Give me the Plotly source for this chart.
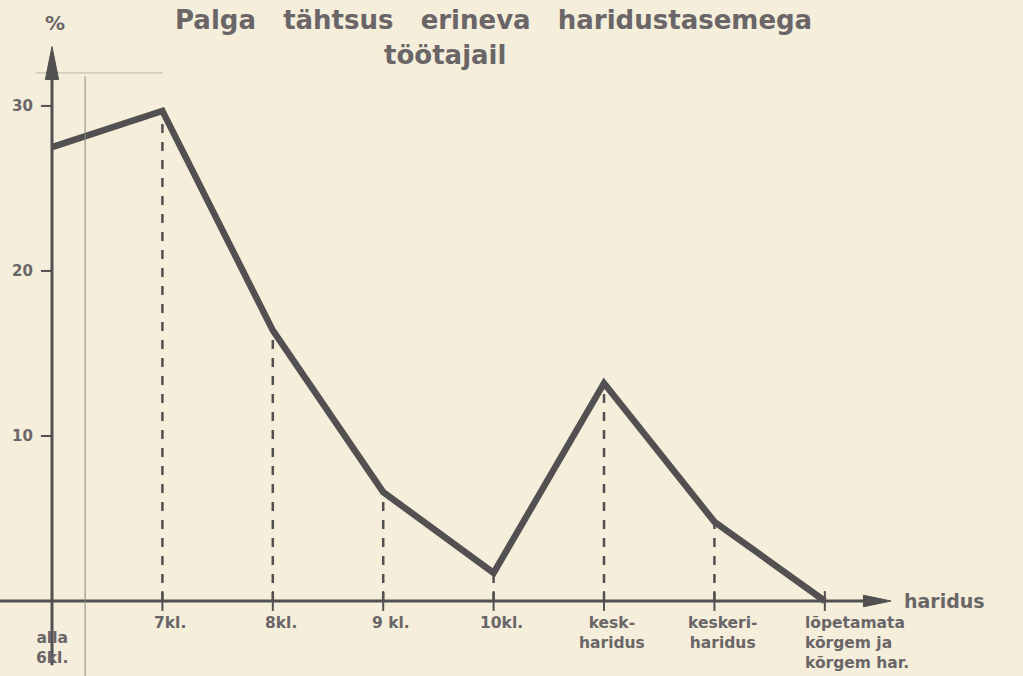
import plotly.graph_objects as go

categories = ["alla\n6kl.", "7kl.", "8kl.", "9 kl.", "10kl.", "kesk-\nharidus", "keskeri-\nharidus", "lõpetamata\nkõrgem ja\nkõrgem har."]
values = [27.5, 29.7, 16.4, 6.6, 1.7, 13.2, 4.8, 0.0]
y_ticks = [10, 20, 30]
title_lines = ["Palga tähtsus erineva haridustasemega", "töötajail"]
x_axis_name = "haridus"
y_axis_name = "%"

INK = "#535052"
TEXT = "#6a6668"
PAPER = "#f4eedb"
FONT = "DejaVu Sans"

x_idx = list(range(len(categories)))
fig = go.Figure()

# dashed drop lines
for i, v in zip(x_idx, values):
    if i == 0 or v <= 0:
        continue
    fig.add_trace(go.Scatter(x=[i, i], y=[0, v], mode="lines",
                             line=dict(color=INK, width=2.5, dash="dash"),
                             hoverinfo="skip", showlegend=False))

# main line
fig.add_trace(go.Scatter(x=x_idx, y=values, mode="lines",
                         line=dict(color=INK, width=6.5), showlegend=False))

xr = [-0.471, 8.795]
yr = [-4.545, 36.42]

shapes = []
# x axis
shapes.append(dict(type="line", x0=xr[0], x1=7.45, y0=0, y1=0, line=dict(color=INK, width=3)))
# y axis
shapes.append(dict(type="line", x0=0, x1=0, y0=-3.9, y1=32.5, line=dict(color=INK, width=3)))
# faint guide lines
shapes.append(dict(type="line", x0=0.3, x1=0.3, y0=-4.6, y1=31.8, line=dict(color="#8a8680", width=1)))
shapes.append(dict(type="line", x0=-0.15, x1=1.0, y0=32.0, y1=32.0, line=dict(color="#b8b4ac", width=1)))
# x ticks
for i in x_idx[1:]:
    shapes.append(dict(type="line", x0=i, x1=i, y0=-0.6, y1=0.6, line=dict(color=INK, width=2)))
# y ticks
for t in y_ticks:
    shapes.append(dict(type="line", x0=-0.1, x1=0, y0=t, y1=t, line=dict(color=INK, width=2)))
# arrowheads
shapes.append(dict(type="path", path="M 7.35 -0.35 L 7.6 0 L 7.35 0.35 Z", fillcolor=INK, line=dict(color=INK, width=1)))
shapes.append(dict(type="path", path="M -0.06 31.6 L 0 33.6 L 0.06 31.6 Z", fillcolor=INK, line=dict(color=INK, width=1)))

annotations = []
for i, c in zip(x_idx, categories):
    lines = c.split("\n")
    if i == 0:
        x, y, anchor, align = 0.0, -1.6, "center", "center"
    elif i == 7:
        x, y, anchor, align = 6.8, -0.65, "left", "left"
    else:
        x, y, anchor, align = i + 0.07, -0.65, "center", "center"
    annotations.append(dict(x=x, y=y, xref="x", yref="y",
                            text="<b>" + "<br>".join(lines) + "</b>", showarrow=False,
                            yanchor="top", xanchor=anchor, align=align,
                            font=dict(family=FONT, size=15.5, color=TEXT)))
for t in y_ticks:
    annotations.append(dict(x=-0.15, y=t, xref="x", yref="y", text="<b>" + str(t) + "</b>", showarrow=False,
                            xanchor="right", yanchor="middle",
                            font=dict(family=FONT, size=15, color=TEXT)))
annotations.append(dict(x=7.7, y=0, xref="x", yref="y", text="<b>" + x_axis_name + "</b>", showarrow=False,
                        xanchor="left", yanchor="middle", font=dict(family=FONT, size=19, color=TEXT)))
annotations.append(dict(x=0.03, y=35.0, xref="x", yref="y", text="<b>" + y_axis_name + "</b>", showarrow=False,
                        xanchor="center", yanchor="middle", font=dict(family=FONT, size=20, color=TEXT)))
annotations.append(dict(x=4.0, y=35.2, xref="x", yref="y",
                        text="<b>" + title_lines[0].replace(" ", "\u00a0\u00a0\u00a0") + "</b>",
                        showarrow=False, xanchor="center", yanchor="middle",
                        font=dict(family=FONT, size=26, color=TEXT)))
annotations.append(dict(x=3.56, y=33.1, xref="x", yref="y", text="<b>" + title_lines[1] + "</b>",
                        showarrow=False, xanchor="center", yanchor="middle",
                        font=dict(family=FONT, size=26, color=TEXT)))

fig.update_layout(
    width=1023, height=676,
    margin=dict(l=0, r=0, t=0, b=0),
    paper_bgcolor=PAPER, plot_bgcolor=PAPER,
    xaxis=dict(range=xr, visible=False, fixedrange=True),
    yaxis=dict(range=yr, visible=False, fixedrange=True),
    shapes=shapes, annotations=annotations,
    showlegend=False,
)

fig.write_html("out.html", config={"displayModeBar": False},
               post_script="document.body.style.margin='0';document.body.style.background='#f4eedb';")
